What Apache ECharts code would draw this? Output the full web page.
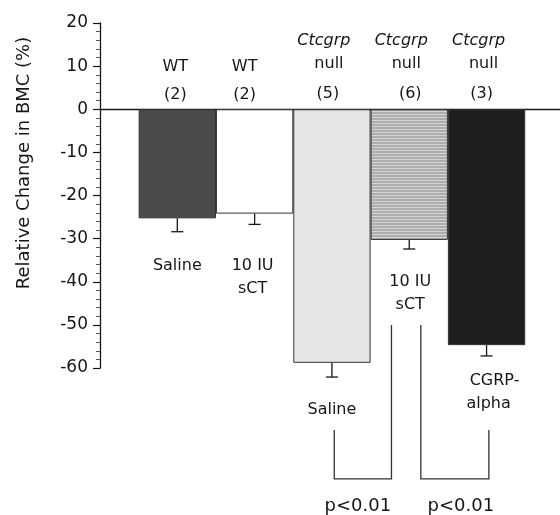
<!DOCTYPE html>
<html><head><meta charset="utf-8">
<script src="https://cdn.jsdelivr.net/npm/echarts@6/dist/echarts.min.js"></script>
<style>html,body{margin:0;padding:0;background:#fff}#c{width:560px;height:515px}</style>
</head><body><div id="c"></div>
<script>
// ---- data ----
const categories = ['WT Saline', 'WT 10 IU sCT', 'Ctcgrp null Saline', 'Ctcgrp null 10 IU sCT', 'Ctcgrp null CGRP-alpha'];
const positions = [1, 2, 3, 4, 5];
const values = [-25.3, -24.2, -58.8, -30.3, -54.7];
const errors = [3.1, 2.5, 3.3, 2.1, 2.5];
const genotypes = ['WT', 'WT', 'Ctcgrp', 'Ctcgrp', 'Ctcgrp'];
const nullLabel = ['', '', 'null', 'null', 'null'];
const groupNs = ['(2)', '(2)', '(5)', '(6)', '(3)'];
const treatments = [['Saline'], ['10 IU', 'sCT'], ['Saline'], ['10 IU', 'sCT'], ['CGRP-', 'alpha']];
const compPairs = [[2, 3], [3, 4]];
const compLabels = ['p<0.01', 'p<0.01'];
const yMin = -60, yMax = 20, yStep = 10;
const yTitle = 'Relative Change in BMC (%)';

// ---- styling / layout ----
const FONT = 'DejaVu Sans';
const TXT = '#161616';
const stripe = document.createElement('canvas');
stripe.width = 4; stripe.height = 3;
(function () {
  const g = stripe.getContext('2d');
  g.fillStyle = '#aeaeae'; g.fillRect(0, 0, 4, 3);
  g.fillStyle = '#d4d4d4'; g.fillRect(0, 0, 4, 1);
})();
const barColors = ['#4b4b4b', '#ffffff', '#e6e6e6', { image: stripe, repeat: 'repeat' }, '#1e1e1e'];
const X_MAX = 5.95;
const GRID_LEFT = 100, GRID_RIGHT = 0;
const barW = (560 - GRID_LEFT - GRID_RIGHT) / X_MAX;

// annotation layout (data-y of text rows, pixel dx)
const annots = [];
positions.forEach((p, i) => {
  if (genotypes[i] === 'WT') {
    annots.push({ x: p, y: 9.8, dx: i === 1 ? -10 : -2, text: genotypes[i] });
    annots.push({ x: p, y: 3.3, dx: i === 1 ? -10 : -2, text: groupNs[i] });
  } else {
    annots.push({ x: p, y: 15.8, dx: -8, text: genotypes[i], italic: true });
    annots.push({ x: p, y: 10.5, dx: -3, text: nullLabel[i] });
    annots.push({ x: p, y: 3.5, dx: [0, 0, -4, 1, -5][i], text: groupNs[i] });
  }
});
const bottomY = [-36.3, -36.3, -69.7, -40.0, -63.0];
const bottomDx = [[0], [-2, -2], [0], [1, 1], [8, 2]];
positions.forEach((p, i) => {
  treatments[i].forEach((t, k) => {
    annots.push({ x: p, y: bottomY[i] - k * 5.4, dx: bottomDx[i][k], text: t });
  });
});
// bracket legs (x in position units, y in data units)
const bracketGeom = [
  { x1: 3.03, y1: -74.4, x2: 3.77, y2: -50.0 },
  { x1: 4.15, y1: -50.0, x2: 5.03, y2: -74.4 }
];
const bracketBottom = -85.7;
compPairs.forEach((pr, j) => {
  const g = bracketGeom[j];
  annots.push({ x: (g.x1 + g.x2) / 2, y: -92.0, dx: j === 0 ? -5 : 6, text: compLabels[j], size: 18 });
});

const chart = echarts.init(document.getElementById('c'), null, { renderer: 'canvas' });
chart.setOption({
  animation: false,
  backgroundColor: '#fff',
  grid: { left: GRID_LEFT, right: GRID_RIGHT, top: 23, bottom: 147 },
  xAxis: {
    type: 'value', min: 0, max: X_MAX,
    axisLine: { show: true, onZero: true, lineStyle: { color: TXT, width: 1.3 } },
    axisTick: { show: false }, axisLabel: { show: false }, splitLine: { show: false }
  },
  yAxis: {
    type: 'value', min: yMin, max: yMax, interval: yStep,
    axisLine: { show: true, onZero: false, lineStyle: { color: TXT, width: 1.3 } },
    axisTick: { show: true, length: 7, lineStyle: { color: TXT, width: 1.2 } },
    minorTick: { show: true, splitNumber: 5, length: 4, lineStyle: { color: '#555', width: 1 } },
    splitLine: { show: false },
    axisLabel: { margin: 12, fontSize: 17, fontFamily: FONT, color: TXT },
    name: yTitle, nameLocation: 'middle', nameGap: 67,
    nameTextStyle: { fontSize: 18, fontFamily: FONT, color: TXT, padding: [0, 0, 0, 65] }
  },
  series: [
    {
      type: 'bar', barWidth: barW, z: 2,
      itemStyle: { borderColor: '#333', borderWidth: 1 },
      data: positions.map((p, i) => ({ name: categories[i], value: [p, values[i]], itemStyle: { color: barColors[i] } }))
    },
    {
      type: 'custom', z: 3,
      data: positions.map((p, i) => [p, values[i], values[i] - errors[i]]),
      encode: { x: 0, y: [1, 2] },
      renderItem: function (params, api) {
        const x = api.value(0);
        const a = api.coord([x, api.value(1)]);
        const b = api.coord([x, api.value(2)]);
        const st = { stroke: TXT, lineWidth: 1.3 };
        return { type: 'group', children: [
          { type: 'line', shape: { x1: a[0], y1: a[1], x2: b[0], y2: b[1] }, style: st },
          { type: 'line', shape: { x1: b[0] - 6, y1: b[1], x2: b[0] + 6, y2: b[1] }, style: st }
        ] };
      }
    },
    {
      type: 'custom', z: 3, clip: false,
      data: bracketGeom.map(g => [g.x1, g.y1, g.x2, g.y2]),
      encode: { x: [0, 2], y: [1, 3] },
      renderItem: function (params, api) {
        const p1 = api.coord([api.value(0), api.value(1)]);
        const p2 = api.coord([api.value(0), bracketBottom]);
        const p3 = api.coord([api.value(2), bracketBottom]);
        const p4 = api.coord([api.value(2), api.value(3)]);
        return { type: 'polyline', shape: { points: [p1, p2, p3, p4] }, style: { stroke: '#333', lineWidth: 1.3, fill: null } };
      }
    },
    {
      type: 'custom', z: 4, clip: false,
      data: annots.map(a => [a.x, a.y]),
      encode: { x: 0, y: 1 },
      renderItem: function (params, api) {
        const a = annots[params.dataIndex];
        const c = api.coord([api.value(0), api.value(1)]);
        return { type: 'text', x: c[0] + a.dx, y: c[1], style: {
          text: a.text, fontSize: a.size || 16, fontFamily: FONT, fontStyle: a.italic ? 'italic' : 'normal',
          fill: TXT, align: 'center', verticalAlign: 'middle'
        } };
      }
    }
  ]
});
</script>
</body></html>
